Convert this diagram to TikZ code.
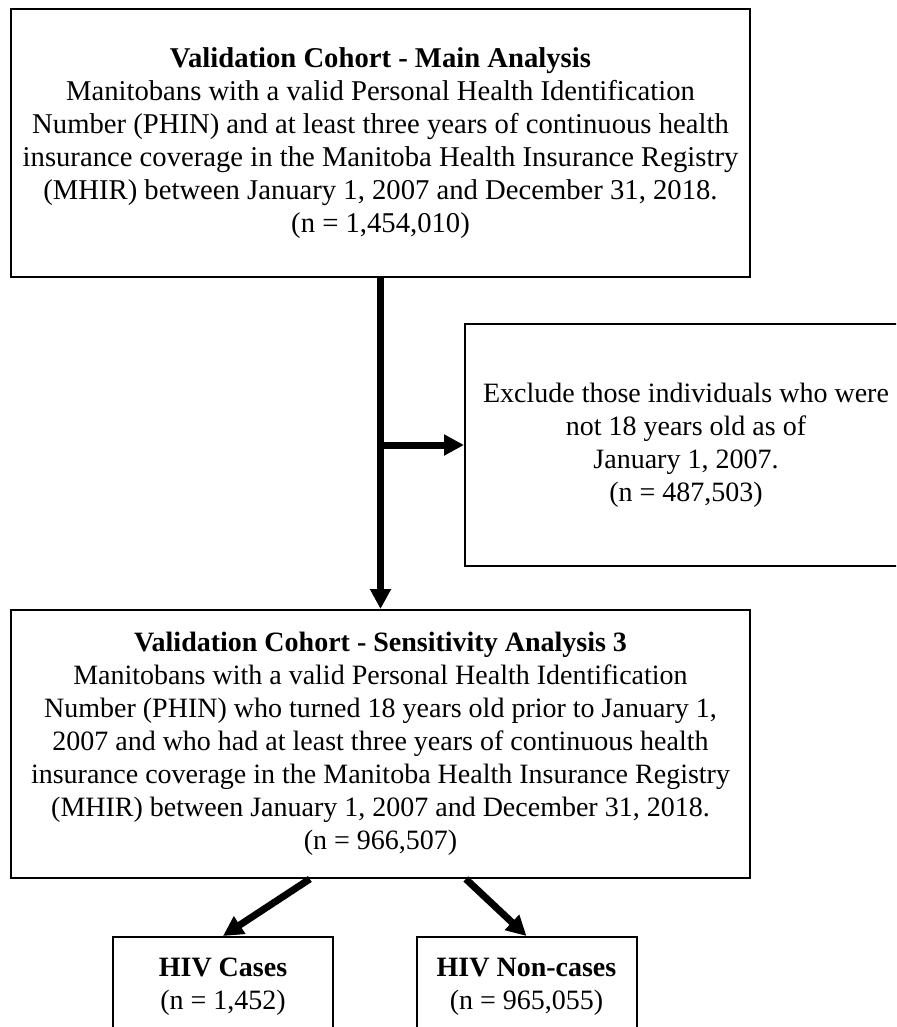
\documentclass[tikz,border=0pt]{standalone}
\usepackage{fontspec}
\setmainfont{Liberation Serif}
\usepackage{tikz}
\usetikzlibrary{arrows.meta, positioning}
\tikzset{
  basebox/.style={rectangle,draw=black,line width=1.5pt,align=center,inner sep=0pt,
    font=\fontsize{21pt}{24.75pt}\selectfont},
  cohortnode/.style={basebox,minimum width=554pt,minimum height=201pt},
  exclnode/.style={basebox,minimum width=331.5pt,minimum height=181pt},
  groupnode/.style={basebox,minimum width=165pt,minimum height=75pt},
  arr/.style={-{Triangle[length=15pt,width=15pt]},line width=5.25pt,color=black}
}

\begin{document}
\begin{tikzpicture}[x=0.75pt,y=-0.75pt]
  \useasboundingbox (0,0) rectangle (896,1027);
  \clip (0,0) rectangle (896,1027);

  \node[cohortnode,font=\fontsize{21.5pt}{24.75pt}\selectfont] (main) at (380.5,143)
    {\textbf{Validation Cohort - Main Analysis}\\
    Manitobans with a valid Personal Health Identification\\
    Number (PHIN) and at least three years of continuous health\\
    insurance coverage in the Manitoba Health Insurance Registry\\
    (MHIR) between January 1, 2007 and December 31, 2018.\\
    (n = 1,454,010)};

  \node[exclnode] (excl) at (686,445) {Exclude those individuals who were\\
    not 18 years old as of\\ January 1, 2007.\\ (n = 487,503)};

  \node[cohortnode,below=248.25pt of main] (sens) {\textbf{Validation Cohort - Sensitivity Analysis 3}\\
    Manitobans with a valid Personal Health Identification\\
    Number (PHIN) who turned 18 years old prior to January 1,\\
    2007 and who had at least three years of continuous health\\
    insurance coverage in the Manitoba Health Insurance Registry\\
    (MHIR) between January 1, 2007 and December 31, 2018.\\
    (n = 966,507)};

  \node[groupnode] (cases) at (223,987) {\textbf{HIV Cases}\\ (n = 1,452)};
  \node[groupnode] (noncases) at (526.5,987) {\textbf{HIV Non-cases}\\ (n = 965,055)};

  \draw[arr] (main) -- (sens);
  \draw[arr] (main.south |- excl.west) -- (excl.west);
  \draw[arr] ([xshift=-53pt]sens.south) -- (cases.north);
  \draw[arr] ([xshift=64pt]sens.south) -- (noncases.north);
\end{tikzpicture}
\end{document}
